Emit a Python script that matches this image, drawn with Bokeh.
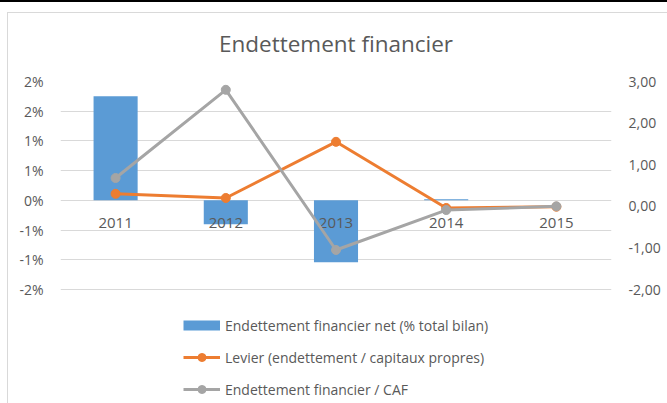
from bokeh.plotting import figure
from bokeh.models import (Range1d, LinearAxis, FixedTicker, Legend, LegendItem,
                          ColumnDataSource)
from bokeh.core.properties import value
from bokeh.embed import file_html
from bokeh.resources import INLINE

# ---- data ----
years = ["2011", "2012", "2013", "2014", "2015"]
net_debt_pct = [1.75, -0.40, -1.04, 0.02, 0.0]       # % of total balance sheet
leverage = [0.30, 0.20, 1.55, -0.04, -0.01]          # debt / equity
debt_caf = [0.68, 2.80, -1.05, -0.09, 0.00]          # debt / CAF

left_ticks = [-1.5, -1.0, -0.5, 0.0, 0.5, 1.0, 1.5, 2.0]
left_labels = ["-2%", "-1%", "-1%", "0%", "1%", "1%", "2%", "2%"]
right_ticks = [-2, -1, 0, 1, 2, 3]
right_labels = ["-2,00", "-1,00", "0,00", "1,00", "2,00", "3,00"]

series_names = ["Endettement financier net (% total bilan)",
                "Levier (endettement / capitaux propres)",
                "Endettement financier / CAF"]
title_text = "Endettement financier"

FONT = "Open Sans"
TXT = "#595959"
BLUE = "#5b9bd5"
ORANGE = "#ed7d31"
GRAY = "#a5a5a5"

# ---- layout (pixels) ----
W, H = 667, 403
TOP = 81          # top of the plotting area
PLOT_H = 208      # height of the gridded area
LEGEND_H = H - TOP - PLOT_H   # area under the grid that holds the legend

left_min, left_max = -1.5, 2.0
right_min, right_max = -2.0, 3.0
# extend the ranges downward so the legend lives inside the frame
left_lo = left_min - (left_max - left_min) * LEGEND_H / PLOT_H
right_lo = right_min - (right_max - right_min) * LEGEND_H / PLOT_H

src = ColumnDataSource(dict(year=years, net=net_debt_pct, lev=leverage,
                            caf=debt_caf, zero=[0] * len(years),
                            nan=[float("nan")] * len(years)))

p = figure(width=W, height=H, x_range=years, y_range=Range1d(left_lo, left_max),
           output_backend="svg", toolbar_location=None,
           min_border_left=60, min_border_right=56,
           min_border_top=TOP, min_border_bottom=0)
p.extra_y_ranges = {"right": Range1d(right_lo, right_max)}

# chart-area border like the original (black top rule, light grey frame)
p.border_fill_color = None
p.styles = {"background": (
    "linear-gradient(#000,#000) 0 0/100% 2px no-repeat,"
    "linear-gradient(#d9d9d9,#d9d9d9) 7px 12px/100% 1px no-repeat,"
    "linear-gradient(#d9d9d9,#d9d9d9) 7px 12px/1px 100% no-repeat,"
    "white")}

p.title.text = title_text
p.title.align = "center"
p.title.text_font = FONT
p.title.text_font_size = "22.5px"
p.title.text_font_style = "normal"
p.title.text_color = TXT
p.title.standoff = 46
p.title.offset = 12

p.outline_line_color = None
p.background_fill_color = "white"
p.xgrid.visible = False
p.ygrid.grid_line_color = "#d9d9d9"
p.ygrid.grid_line_width = 1
p.ygrid.ticker = FixedTicker(ticks=left_ticks)

p.xaxis.visible = False

ya = p.yaxis[0]
ya.ticker = FixedTicker(ticks=left_ticks)
ya.major_label_overrides = dict(zip(left_ticks, left_labels))
ya.axis_line_color = None
ya.major_tick_line_color = None
ya.minor_tick_line_color = None
ya.major_label_text_color = TXT
ya.major_label_text_font = FONT
ya.major_label_text_font_size = "14px"
ya.major_label_standoff = 11

ra = LinearAxis(y_range_name="right", ticker=FixedTicker(ticks=right_ticks))
ra.major_label_overrides = dict(zip(right_ticks, right_labels))
ra.axis_line_color = None
ra.major_tick_line_color = None
ra.minor_tick_line_color = None
ra.major_label_text_color = TXT
ra.major_label_text_font = FONT
ra.major_label_text_font_size = "14px"
ra.major_label_standoff = 11
p.add_layout(ra, "right")

# bars
p.vbar(x="year", top="net", bottom=0, width=0.4, source=src,
       fill_color=BLUE, line_color=None)

# category labels under the zero line
p.text(x="year", y="zero", text="year", source=src, text_align="center",
       text_baseline="middle", y_offset=23, text_color=TXT,
       text_font=value(FONT), text_font_size="15px")

# lines
lo = p.line(x="year", y="lev", source=src, y_range_name="right",
            line_color=ORANGE, line_width=3)
so = p.scatter(x="year", y="lev", source=src, y_range_name="right",
               size=9, fill_color=ORANGE, line_color=ORANGE)
lg = p.line(x="year", y="caf", source=src, y_range_name="right",
            line_color=GRAY, line_width=3)
sg = p.scatter(x="year", y="caf", source=src, y_range_name="right",
               size=9, fill_color=GRAY, line_color=GRAY)

# legend proxy for the bar series (draws nothing in the plot: NaN values)
bar_proxy = p.line(x="year", y="nan", source=src, line_color=BLUE,
                   line_width=10, line_cap="butt")

legend = Legend(items=[
    LegendItem(label=series_names[0], renderers=[bar_proxy]),
    LegendItem(label=series_names[1], renderers=[lo, so]),
    LegendItem(label=series_names[2], renderers=[lg, sg]),
], location=(123, 4), orientation="vertical")
legend.glyph_width = 37
legend.glyph_height = 20
legend.label_height = 20
legend.spacing = 12
legend.padding = 0
legend.margin = 0
legend.label_standoff = 5
legend.border_line_color = None
legend.background_fill_alpha = 0
legend.label_text_font = FONT
legend.label_text_font_size = "14px"
legend.label_text_color = TXT
p.add_layout(legend, "center")

open("out.html", "w").write(file_html(p, INLINE))
